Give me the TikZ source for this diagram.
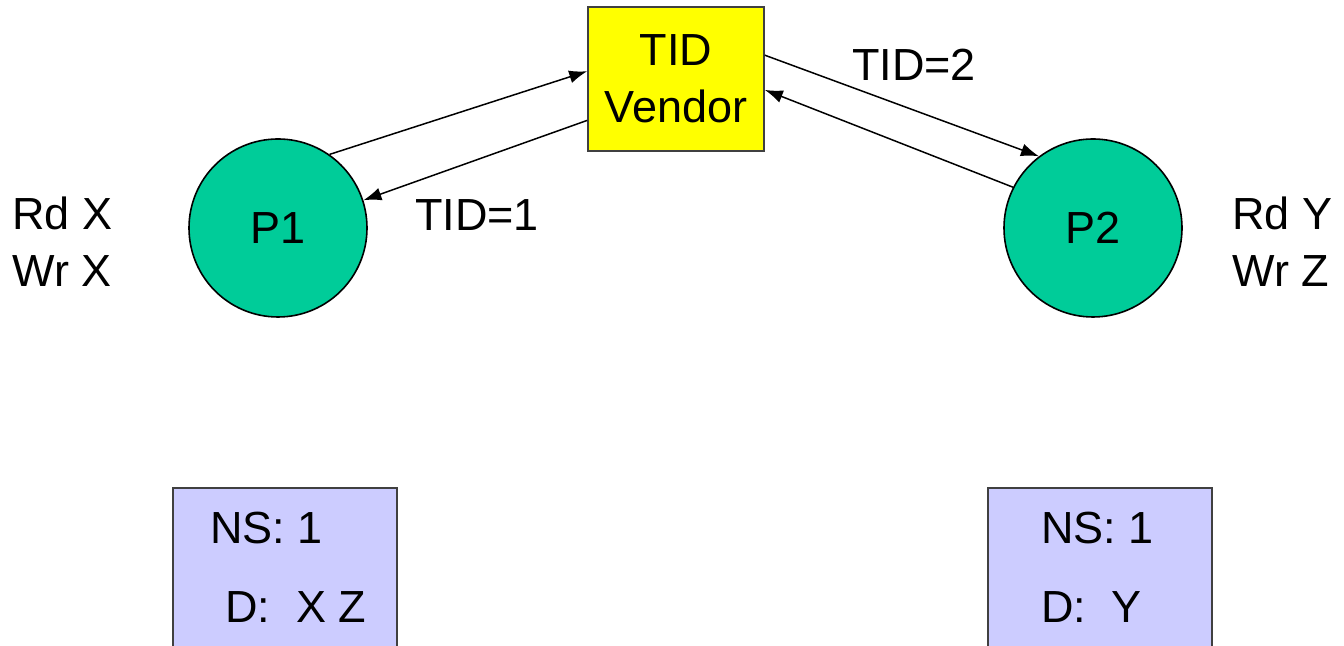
\documentclass[tikz,border=0pt]{standalone}
\usepackage{fontspec}
\setmainfont{Liberation Sans}
\usetikzlibrary{arrows.meta}
\definecolor{procgreen}{RGB}{0,204,153}
\definecolor{vendoryellow}{RGB}{255,255,0}
\definecolor{nslav}{RGB}{204,204,255}
\newcommand{\slidefont}{\fontsize{22.5}{28.5}\selectfont}
\tikzset{
  proc/.style={circle,draw=black,line width=0.8pt,fill=procgreen,
    minimum size=89pt,inner sep=0pt},
  vendorbox/.style={draw=black!75,line width=0.8pt,fill=vendoryellow,
    minimum width=88pt,minimum height=72pt,inner sep=0pt,align=center},
  nsbox/.style={draw=black!75,line width=0.8pt,fill=nslav,
    minimum width=112pt,minimum height=100pt,anchor=north},
  msg/.style={-{Latex[length=9pt,width=6.5pt]},line width=0.75pt},
  lbl/.style={inner sep=0pt,align=left}
}

\begin{document}
\begin{tikzpicture}[x=0.5pt,y=0.5pt,font=\slidefont]
    \clip (0,0) rectangle (1344,646);
    \fill[white] (0,0) rectangle (1344,646);
    % vendor and the two processes
    \node[vendorbox] (tid) at (676,567) {TID\\Vendor};
    \node[proc] (p1) at (278,418) {P1};
    \node[proc] (p2) at (1093,418) {P2};
    \node[lbl,anchor=west] (ops1) at (12,404) {Rd X\\Wr X};
    \node[lbl,anchor=west] (ops2) at (1232,404) {Rd Y\\Wr Z};
    % request / reply pairs
    \draw[msg] (p1.55) -- (tid.175);
    \draw[msg] (tid.205) -- (p1.18);
    \draw[msg] (tid.15) -- (p2.127);
    \draw[msg] (p2.153) -- (tid.353);
    \node[lbl] (tid1) at (477,431) {TID=1};
    \node[lbl] (tid2) at (914,581) {TID=2};
    % per-process tables, cut off at the bottom
    \node[nsbox] (tab1) at (285,159) {};
    \node[nsbox] (tab2) at (1100,159) {};
    \node[lbl,anchor=west] (ns1) at (210,118) {NS: 1};
    \node[lbl,anchor=west] (d1) at (225,39) {D:\hspace{13pt}X Z};
    \node[lbl,anchor=west] (ns2) at (1041,118) {NS: 1};
    \node[lbl,anchor=west] (d2) at (1041,39) {D:\ \ Y};
\end{tikzpicture}
\end{document}
